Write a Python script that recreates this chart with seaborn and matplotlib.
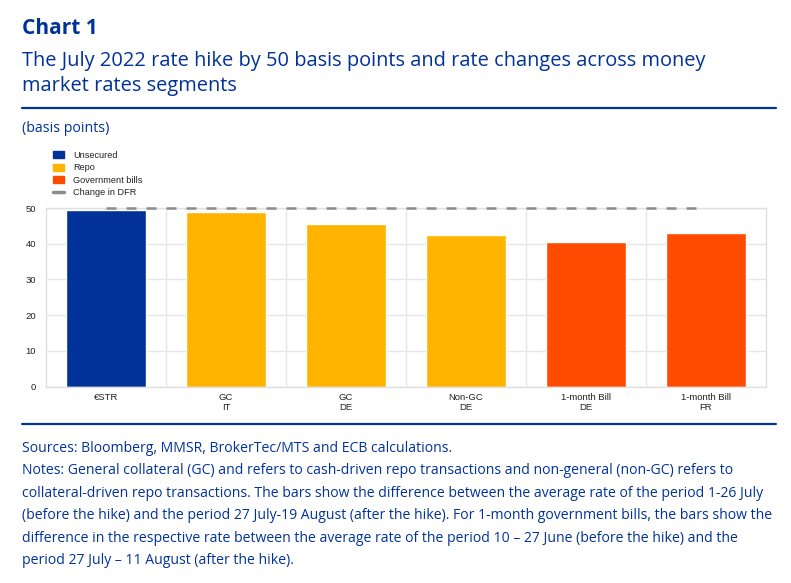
import matplotlib
matplotlib.use("Agg")
import matplotlib.pyplot as plt
from matplotlib.patches import Patch
from matplotlib.lines import Line2D
import pandas as pd
import seaborn as sns

# data
labels = ["€STR", "GC\nIT", "GC\nDE", "Non-GC\nDE", "1-month Bill\nDE", "1-month Bill\nFR"]
segments = ["Unsecured", "Repo", "Repo", "Repo", "Government bills", "Government bills"]
changes = [49.5, 48.9, 45.5, 42.5, 40.5, 43.0]
dfr_change = 50

seg_order = ["Unsecured", "Repo", "Government bills"]
seg_colors = ["#003299", "#ffb400", "#ff4b00"]
ecb_blue = "#003299"
txt_font = ["Open Sans", "DejaVu Sans"]

df = pd.DataFrame({"label": labels, "segment": segments, "change": changes})

sns.set_style("white")
plt.rcParams["font.family"] = ["Liberation Sans", "DejaVu Sans"]

fig = plt.figure(figsize=(7.91, 5.83), dpi=100)
ax = fig.add_axes([46 / 791, 1 - 386.5 / 583, 720 / 791, 178.5 / 583])

sns.barplot(data=df, x="label", y="change", hue="segment", hue_order=seg_order,
            palette=seg_colors, dodge=False, width=0.667, saturation=1,
            legend=False, ax=ax, zorder=2)

# change in the deposit facility rate, from first to last category centre
ax.hlines(dfr_change, 0, len(labels) - 1, colors="#8c8c8c", linewidth=1.8,
          linestyles=(0, (4, 4)), zorder=3, clip_on=False)

ax.set_ylim(0, 50)
ax.set_xlim(-0.5, len(labels) - 0.5)
ax.set_yticks(range(0, 51, 10))
ax.set_xlabel("")
ax.set_ylabel("")
ax.yaxis.grid(True, color="#e6e6e6", linewidth=1, zorder=0)
for i in range(1, len(labels)):
    ax.axvline(i - 0.5, color="#e6e6e6", linewidth=1, zorder=0)
for sp in ax.spines.values():
    sp.set_color("#e0e0e0")
    sp.set_linewidth(1)
ax.tick_params(axis="both", length=0, labelsize=6.8, colors="#222222")
ax.tick_params(axis="y", pad=7)
ax.tick_params(axis="x", pad=5)
for t in ax.get_xticklabels():
    t.set_linespacing(1.15)

handles = [Patch(facecolor=c, edgecolor=c) for c in seg_colors]
handles.append(Line2D([0], [0], color="#8c8c8c", linewidth=2.5))
leg = fig.legend(handles, seg_order + ["Change in DFR"], loc="upper left",
                 bbox_to_anchor=(53 / 791, 1 - 151 / 583), frameon=False,
                 fontsize=6.6, handlelength=1.2, handleheight=0.8,
                 labelspacing=0.36, handletextpad=1.0, borderaxespad=0,
                 borderpad=0)
for t in leg.get_texts():
    t.set_color("#222222")

# header and footer text
fig.text(22 / 791, 1 - 28 / 583, "Chart 1", fontsize=15, fontweight="bold",
         color=ecb_blue, va="center", family=txt_font)
fig.text(22 / 791, 1 - 61 / 583,
         "The July 2022 rate hike by 50 basis points and rate changes across money",
         fontsize=14.4, color=ecb_blue, va="center", family=txt_font)
fig.text(22 / 791, 1 - 86 / 583, "market rates segments",
         fontsize=14.4, color=ecb_blue, va="center", family=txt_font)
fig.add_artist(Line2D([22 / 791, 776 / 791], [1 - 108 / 583, 1 - 108 / 583],
                      color=ecb_blue, linewidth=1.6))
fig.text(22 / 791, 1 - 129 / 583, "(basis points)", fontsize=10.2, color=ecb_blue,
         va="center", family=txt_font)
fig.add_artist(Line2D([22 / 791, 776 / 791], [1 - 424 / 583, 1 - 424 / 583],
                      color=ecb_blue, linewidth=1.6))

notes = [
    "Sources: Bloomberg, MMSR, BrokerTec/MTS and ECB calculations.",
    "Notes: General collateral (GC) and refers to cash-driven repo transactions and non-general (non-GC) refers to",
    "collateral-driven repo transactions. The bars show the difference between the average rate of the period 1-26 July",
    "(before the hike) and the period 27 July-19 August (after the hike). For 1-month government bills, the bars show the",
    "difference in the respective rate between the average rate of the period 10 \u2013 27 June (before the hike) and the",
    "period 27 July \u2013 11 August (after the hike).",
]
for i, line in enumerate(notes):
    fig.text(22 / 791, 1 - (448 + i * 22.6) / 583, line, fontsize=10.1,
             color=ecb_blue, va="center", family=txt_font)

fig.savefig("out.png", dpi=100)
